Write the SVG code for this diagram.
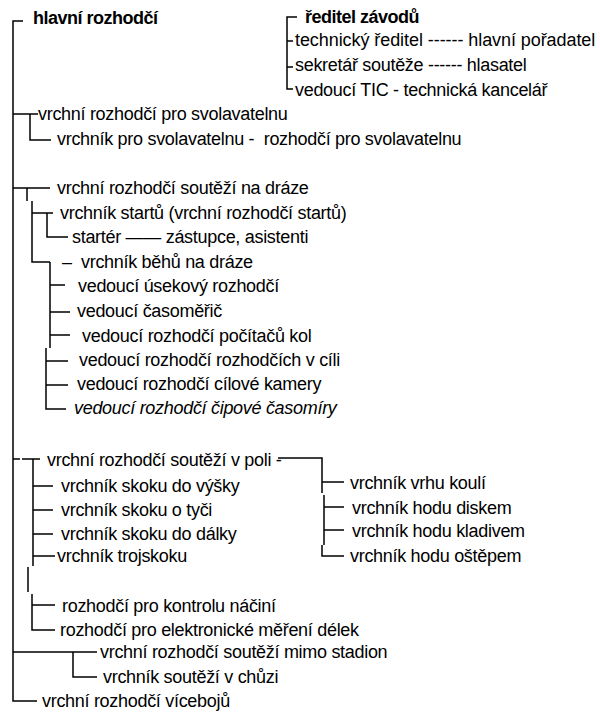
<svg xmlns="http://www.w3.org/2000/svg" width="600" height="713" viewBox="0 0 600 713">
<style>
text{font-family:"Liberation Sans",Arial,sans-serif;font-size:18px;letter-spacing:-0.3px;fill:#000}
.b{font-weight:bold;letter-spacing:-0.5px}
.i{font-style:italic}
#connectors path{fill:none;stroke:#000;stroke-width:1.5}
</style>
<rect width="600" height="713" fill="#fff"/>
<g id="connectors">
<path d="M23,21 H13 V701 H37"/>
<path d="M297,17 H287 V89 H293 M287,41 H293 M287,67 H293"/>
<path d="M13,114 H38 M30,114 V140 H51"/>
<path d="M13,188 H50 M27,188 V201 M32,201 V262 H50 M32,213 H53 M47,213 V237 H68"/>
<path d="M50,262 V348 M46,348 V409 H66 M50,285 H65 M50,312 H70 M50,335 H70 M46,361 H68 M46,385 H68"/>
<path d="M13,459 H20 M22,459 H40 M33,459 V566 M28,567 V592 M32,594 V630 H55 M33,486 H53 M33,510 H53 M33,534 H53 M33,556 H55 M32,605 H55"/>
<path d="M278,458 H322 V493 M322,482 H344 M324,495 V545 M324,507 H344 M324,530 H344 M322,545 V556 H344"/>
<path d="M13,652 H97 M73,652 V677 H97"/>
</g>
<g id="n-hlavni"><text class="b" x="33" y="24">hlavní rozhodčí</text></g>
<g id="n-reditel"><text class="b" x="305" y="23">ředitel závodů</text></g>
<g id="n-technicky"><text x="295" y="46" textLength="300">technický ředitel ------ hlavní pořadatel</text></g>
<g id="n-sekretar"><text x="295" y="71">sekretář soutěže ------ hlasatel</text></g>
<g id="n-tic"><text x="295" y="96">vedoucí TIC - technická kancelář</text></g>
<g id="n-svol"><text x="38" y="120">vrchní rozhodčí pro svolavatelnu</text></g>
<g id="n-svol2"><text x="57" y="145" xml:space="preserve">vrchník pro svolavatelnu -  rozhodčí pro svolavatelnu</text></g>
<g id="n-draha"><text x="57" y="194">vrchní rozhodčí soutěží na dráze</text></g>
<g id="n-starty"><text x="60" y="219">vrchník startů (vrchní rozhodčí startů)</text></g>
<g id="n-starter"><text x="72" y="243">startér —— zástupce, asistenti</text></g>
<g id="n-behy"><text x="62" y="268">–<tspan x="81">vrchník běhů na dráze</tspan></text></g>
<g id="n-usek"><text x="78" y="292">vedoucí úsekový rozhodčí</text></g>
<g id="n-casomeric"><text x="77" y="317">vedoucí časoměřič</text></g>
<g id="n-kola"><text x="82" y="342">vedoucí rozhodčí počítačů kol</text></g>
<g id="n-cil"><text x="79" y="366">vedoucí rozhodčí rozhodčích v cíli</text></g>
<g id="n-kamera"><text x="77" y="390">vedoucí rozhodčí cílové kamery</text></g>
<g id="n-cip"><text class="i" x="74" y="414">vedoucí rozhodčí čipové časomíry</text></g>
<g id="n-pole"><text x="47" y="466">vrchní rozhodčí soutěží v poli -</text></g>
<g id="n-vyska"><text x="61" y="492">vrchník skoku do výšky</text></g>
<g id="n-tyc"><text x="61" y="516">vrchník skoku o tyči</text></g>
<g id="n-dalka"><text x="61" y="540">vrchník skoku do dálky</text></g>
<g id="n-troj"><text x="57" y="562">vrchník trojskoku</text></g>
<g id="n-nacini"><text x="62" y="612">rozhodčí pro kontrolu náčiní</text></g>
<g id="n-elektro"><text x="60" y="636">rozhodčí pro elektronické měření délek</text></g>
<g id="n-mimo"><text x="100" y="658">vrchní rozhodčí soutěží mimo stadion</text></g>
<g id="n-chuze"><text x="103" y="683">vrchník soutěží v chůzi</text></g>
<g id="n-viceboj"><text x="42" y="707">vrchní rozhodčí vícebojů</text></g>
<g id="n-koule"><text x="350" y="489">vrchník vrhu koulí</text></g>
<g id="n-disk"><text x="352" y="514">vrchník hodu diskem</text></g>
<g id="n-kladivo"><text x="352" y="537">vrchník hodu kladivem</text></g>
<g id="n-ostep"><text x="350" y="562">vrchník hodu oštěpem</text></g>
</svg>
